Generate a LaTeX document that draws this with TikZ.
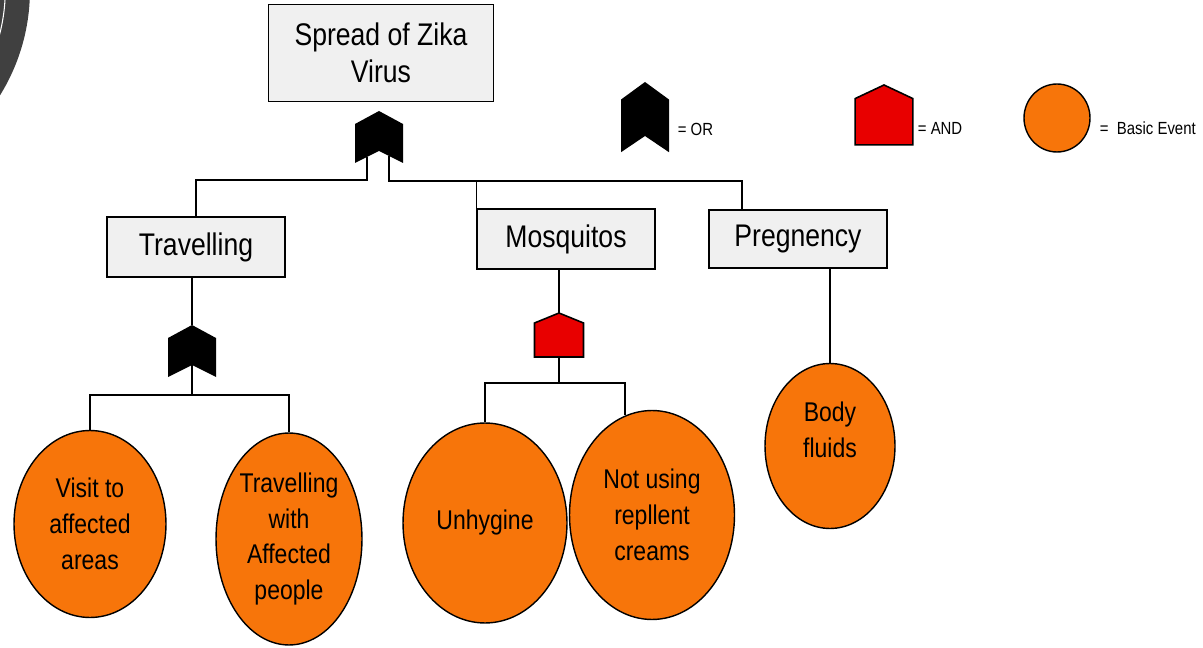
\documentclass[tikz,border=0pt]{standalone}
\usepackage{fontspec}
\setmainfont{Liberation Sans}[FakeStretch=0.85]
\usetikzlibrary{shapes.geometric}
\definecolor{boxgray}{RGB}{240,240,240}
\definecolor{evorange}{RGB}{247,117,10}
\definecolor{andred}{RGB}{232,0,0}
\definecolor{rimgray}{RGB}{64,64,64}

\tikzset{
  orgate/.pic={
    \fill (0,0) -- (24,13) -- (24,52) -- (0,40) -- (-24,52) -- (-24,13) -- cycle;
    \coordinate (-n) at (0,0);
    \coordinate (-s) at (0,40);
    \coordinate (-l) at (-12,46);
    \coordinate (-r) at (10,45);
  },
  andgate/.pic={
    \filldraw[fill=andred,line width=0.9pt] (0,0) -- (24.5,10) -- (24.5,44) -- (-24.5,44) -- (-24.5,10) -- cycle;
    \coordinate (-n) at (0,0);
    \coordinate (-s) at (0,44);
  }
}

\begin{document}
\begin{tikzpicture}
  [x=0.02cm,y=-0.02cm,line width=1pt,
   evbox/.style={rectangle,draw,fill=boxgray,align=center,
     font=\fontsize{17.8}{21}\selectfont,minimum width=3.55cm,minimum height=1.2cm},
   event/.style={ellipse,draw,fill=evorange,line width=0.8pt,inner sep=0pt,
     align=center,font=\fontsize{15.4}{20.4}\selectfont},
   legtext/.style={anchor=west,inner sep=0pt,font=\fontsize{10}{12}\selectfont}]
  \useasboundingbox (0,0) rectangle (1203,648);

  % rim in the corner
  \draw[rimgray,line width=0.8cm] (-170,-10) circle [radius=3.6cm];
  \draw[white,line width=0.6pt] (-170,-10) circle [radius=3.506cm];

  \node[evbox,minimum width=4.5cm,minimum height=1.94cm] (top) at (381,53) {Spread of Zika\\Virus};
  \node[evbox] (trav) at (196,247) {Travelling};
  \node[evbox] (mosq) at (566,239) {Mosquitos};
  \node[evbox,minimum height=1.16cm] (preg) at (798,239) {Pregnency};

  \node[event,minimum width=3.04cm,minimum height=3.74cm] (visit) at (90,524) {Visit to\\affected\\areas};
  \node[event,minimum width=2.92cm,minimum height=4.24cm] (trwith) at (289,539) {Travelling\\with\\Affected\\people};
  \node[event,minimum width=3.28cm,minimum height=4cm] (unhyg) at (485,523) {Unhygine};
  \node[event,minimum width=3.3cm,minimum height=4.18cm] (nouse) at (652,515) {Not using\\repllent\\creams};
  \node[event,minimum width=2.6cm,minimum height=3.3cm] (body) at (830,446) {Body\\fluids\\[-2pt]\mbox{}};

  \coordinate (ja) at (0,180);
  \coordinate (jb) at (742,181);
  \coordinate (jc) at (192,395);
  \coordinate (jd) at (559,383);

  \pic (g1) at (379,111) {orgate};
  \pic (g2) at (192,325) {orgate};
  \pic (g3) at (559,313) {andgate};

  \draw (g1-l) |- (trav.north |- ja) -- (trav.north);
  \draw (g1-r) |- (jb) -- (jb |- preg.north);
  \draw (mosq.north west |- jb) -- (mosq.north west);

  \draw (g2-n |- trav.south) -- (g2-n);
  \draw (g2-s) -- (jc);
  \draw (visit.north) |- (jc) -| (trwith.north);

  \draw (g3-n |- mosq.south) -- (g3-n);
  \draw (g3-s) -- (jd);
  \draw (unhyg.north) |- (jd) -| (nouse.105);

  \draw (body.north |- preg.south) -- (body.north);

  % legend
  \pic[yscale=1.35] (lg1) at (645,82) {orgate};
  \node[legtext] (lor) at (677,129) {= OR};
  \pic[xscale=1.18,yscale=1.36] (lg2) at (884,85) {andgate};
  \node[legtext] (land) at (917,128) {= AND};
  \node[event,minimum width=1.32cm,minimum height=1.36cm] (lev) at (1057,118) {};
  \node[legtext] (lbasic) at (1099,128) {=\ \ Basic Event};
\end{tikzpicture}
\end{document}
